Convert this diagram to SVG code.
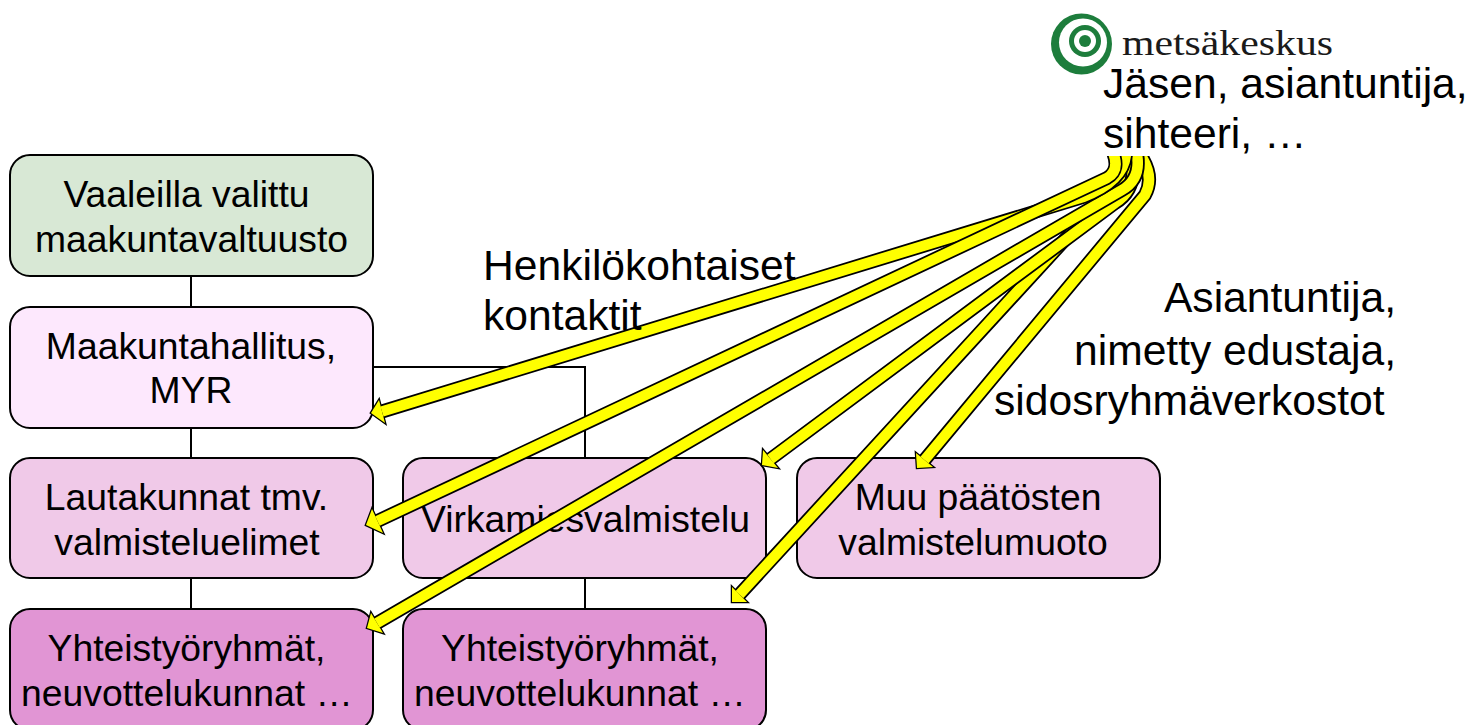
<svg xmlns="http://www.w3.org/2000/svg" width="1472" height="725" viewBox="0 0 1472 725">
<style>
text{font-family:"Liberation Sans",Arial,sans-serif;font-size:37.3px;fill:#000}
.lb{font-size:42.6px}
.m{text-anchor:middle}
.e{text-anchor:end}
.b{stroke:#000;stroke-width:2}
.l{fill:none;stroke:#000;stroke-width:2}
.so{fill:none;stroke:#000;stroke-width:14}
.si{fill:none;stroke:#ff0;stroke-width:10.5}
.ho{fill:#000;stroke:#000;stroke-width:2.5;stroke-linejoin:miter}
.hi{fill:#ff0}
.g{fill:#1d7d3c}
.w{fill:#fff}
</style>
<defs><clipPath id="c"><rect x="0" y="156" width="1472" height="569"/></clipPath></defs>
<rect width="1472" height="725" fill="#fff"/>
<g id="connectors">
<path class="l" d="M191 276V306M191 428V458M191 578V609M373 367H585V458M585 578V609"/>
</g>
<g id="n1"><rect class="b" x="10" y="155" width="363" height="121" rx="20" fill="#d8e8d5"/><text class="m" x="186.500" y="207">Vaaleilla valittu</text><text class="m" x="191.500" y="252">maakuntavaltuusto</text></g>
<g id="n2"><rect class="b" x="10" y="307" width="363" height="121" rx="20" fill="#fde8fd"/><text class="m" x="191" y="359">Maakuntahallitus,</text><text class="m" x="191" y="403">MYR</text></g>
<g id="n3"><rect class="b" x="10" y="458" width="363" height="120" rx="20" fill="#f0c9e8"/><text class="m" x="186.500" y="510">Lautakunnat tmv.</text><text class="m" x="187" y="555">valmisteluelimet</text></g>
<g id="n4"><rect class="b" x="403" y="458" width="363" height="120" rx="20" fill="#f0c9e8"/><text class="m" x="585.500" y="532">Virkamiesvalmistelu</text></g>
<g id="n5"><rect class="b" x="797" y="458" width="363" height="120" rx="20" fill="#f0c9e8"/><text class="m" x="978" y="510">Muu päätösten</text><text class="m" x="973" y="555">valmistelumuoto</text></g>
<g id="n6"><rect class="b" x="10" y="609" width="363" height="121" rx="20" fill="#e195d4"/><text class="m" x="186.500" y="661">Yhteistyöryhmät,</text><text class="m" x="187" y="706">neuvottelukunnat …</text></g>
<g id="n7"><rect class="b" x="403" y="609" width="363" height="121" rx="20" fill="#e195d4"/><text class="m" x="580" y="661">Yhteistyöryhmät,</text><text class="m" x="580" y="706">neuvottelukunnat …</text></g>
<g id="arrows" clip-path="url(#c)">
<path class="so" d="M1137 150Q1156 175 1145 195L924.500 460"/><polygon class="ho" points="917,468 916,453 933,467"/><path class="si" d="M1137 150Q1156 175 1145 195L924.500 460"/><polygon class="hi" points="917,468 916,453 933,467"/>
<path class="so" d="M1134 150Q1143 162 1127 172L739.500 594.500"/><polygon class="ho" points="732,602 732,587 747,602"/><path class="si" d="M1134 150Q1143 162 1127 172L739.500 594.500"/><polygon class="hi" points="732,602 732,587 747,602"/>
<path class="so" d="M1130 150Q1140 188 1115 203L770.500 459"/><polygon class="ho" points="762,465 763,450 778,468"/><path class="si" d="M1130 150Q1140 188 1115 203L770.500 459"/><polygon class="hi" points="762,465 763,450 778,468"/>
<path class="so" d="M1136 150Q1143 178 1122 190L377 623"/><polygon class="ho" points="367,628 371,613 383,633"/><path class="si" d="M1136 150Q1143 178 1122 190L377 623"/><polygon class="hi" points="367,628 371,613 383,633"/>
<path class="so" d="M1126 150Q1127 180 1083 197L382 411.500"/><polygon class="ho" points="371,413 379,400 385,423"/><path class="si" d="M1126 150Q1127 180 1083 197L382 411.500"/><polygon class="hi" points="371,413 379,400 385,423"/>
<path class="so" d="M1112 150Q1121 170 1107 178L377.500 521"/><polygon class="ho" points="366,525 372,509 383,533"/><path class="si" d="M1112 150Q1121 170 1107 178L377.500 521"/><polygon class="hi" points="366,525 372,509 383,533"/>
</g>
<g id="logo"><circle class="g" cx="1081.500" cy="44" r="30.500"/><circle class="w" cx="1083" cy="42.500" r="24"/><circle class="g" cx="1085" cy="41" r="16"/><circle class="w" cx="1085" cy="41" r="11"/><circle class="g" cx="1085" cy="41" r="6"/>
<text x="1122" y="55" textLength="211" lengthAdjust="spacingAndGlyphs" style="font-family:'Liberation Serif',serif;font-size:35px;fill:#1a1a1a">metsäkeskus</text></g>
<g id="labels">
<text class="lb" x="1103" y="98">Jäsen, asiantuntija,</text>
<text class="lb" x="1103" y="148">sihteeri, …</text>
<text class="lb" x="483" y="280">Henkilökohtaiset</text>
<text class="lb" x="483" y="330">kontaktit</text>
<text class="lb e" x="1396" y="312">Asiantuntija,</text>
<text class="lb e" x="1396" y="365">nimetty edustaja,</text>
<text class="lb" x="994" y="415">sidosryhmäverkostot</text>
</g>
</svg>
